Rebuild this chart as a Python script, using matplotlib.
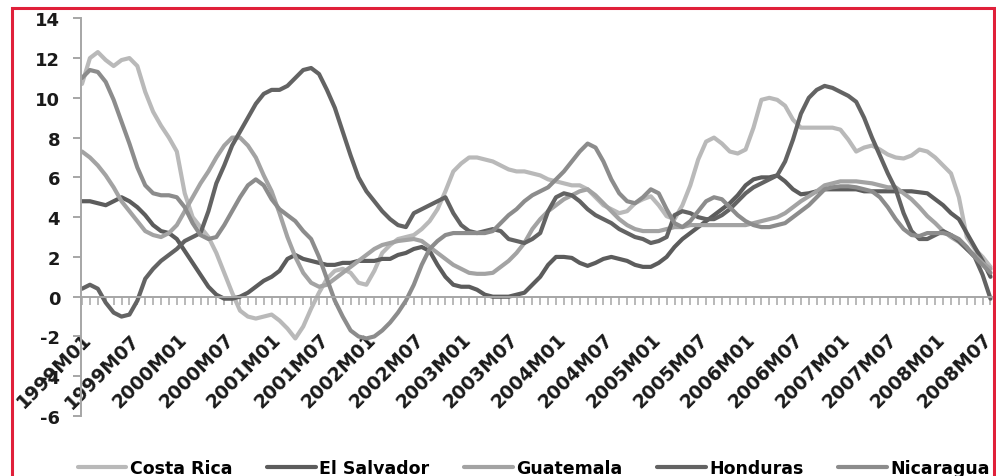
import matplotlib
matplotlib.use('Agg')
import matplotlib.pyplot as plt
from matplotlib.patches import Rectangle
from matplotlib.ticker import FixedLocator, MultipleLocator

plt.rcParams['font.family'] = ['DejaVu Sans']

# monthly categories 1999M01 .. 2008M08
months = [f'{1999 + i // 12}M{i % 12 + 1:02d}' for i in range(116)]

costa_rica = [
    10.7, 12.0, 12.3, 11.9, 11.6, 11.9, 12.0, 11.6, 10.3, 9.3,
    8.6, 8.0, 7.3, 5.2, 4.0, 3.5, 3.0, 2.2, 1.2, 0.2,
    -0.7, -1.0, -1.1, -1.0, -0.9, -1.2, -1.6, -2.1, -1.5, -0.6,
    0.2, 0.9, 1.3, 1.4, 1.2, 0.7, 0.6, 1.3, 2.2, 2.6,
    2.9, 3.0, 3.1, 3.4, 3.8, 4.4, 5.3, 6.3, 6.7, 7.0,
    7.0, 6.9, 6.8, 6.6, 6.4, 6.3, 6.3, 6.2, 6.1, 5.9,
    5.8, 5.7, 5.6, 5.6, 5.4, 5.0, 4.6, 4.4, 4.2, 4.3,
    4.7, 4.9, 5.05, 4.6, 4.05, 3.9, 4.6, 5.6, 6.9, 7.8,
    8.0, 7.7, 7.3, 7.2, 7.4, 8.5, 9.9, 10.0, 9.9, 9.6,
    8.9, 8.5, 8.5, 8.5, 8.5, 8.5, 8.4, 7.9, 7.3, 7.5,
    7.6, 7.4, 7.15, 7.0, 6.95, 7.1, 7.4, 7.3, 7.0, 6.6,
    6.2, 5.0, 3.0, 2.4, 2.0, 1.5,
]

el_salvador = [
    4.8, 4.8, 4.7, 4.6, 4.8, 5.0, 4.8, 4.5, 4.1, 3.6,
    3.3, 3.2, 2.9, 2.3, 1.7, 1.1, 0.5, 0.1, -0.1, -0.1,
    0.0, 0.2, 0.5, 0.8, 1.0, 1.3, 1.9, 2.1, 1.9, 1.8,
    1.7, 1.6, 1.6, 1.7, 1.7, 1.8, 1.8, 1.8, 1.9, 1.9,
    2.1, 2.2, 2.4, 2.5, 2.3, 1.6, 1.0, 0.6, 0.5, 0.5,
    0.35, 0.1, 0.0, 0.0, 0.0, 0.1, 0.2, 0.6, 1.0, 1.6,
    2.0, 2.0, 1.95, 1.7, 1.55, 1.7, 1.9, 2.0, 1.9, 1.8,
    1.6, 1.5, 1.5, 1.7, 2.0, 2.5, 2.9, 3.2, 3.5, 3.8,
    4.1, 4.4, 4.7, 5.1, 5.6, 5.9, 6.0, 6.0, 6.1, 5.8,
    5.4, 5.15, 5.2, 5.3, 5.4, 5.4, 5.4, 5.4, 5.4, 5.3,
    5.3, 5.3, 5.3, 5.3, 5.3, 5.3, 5.25, 5.2, 4.9, 4.6,
    4.2, 3.9, 3.2, 2.5, 1.8, 1.0,
]

guatemala = [
    7.3, 7.0, 6.6, 6.1, 5.5, 4.8, 4.3, 3.8, 3.3, 3.1,
    3.0, 3.2, 3.6, 4.3, 5.0, 5.7, 6.3, 7.0, 7.6, 8.0,
    8.0, 7.6, 7.0, 6.1, 5.3, 4.2, 3.0, 2.0, 1.2, 0.7,
    0.5, 0.6, 0.9, 1.2, 1.5, 1.8, 2.1, 2.4, 2.6, 2.7,
    2.8, 2.85, 2.9, 2.8, 2.5, 2.2, 1.9, 1.6, 1.4, 1.2,
    1.15, 1.15, 1.2, 1.5, 1.8, 2.2, 2.7, 3.4, 3.9, 4.3,
    4.6, 4.9, 5.1, 5.3, 5.4, 5.1, 4.7, 4.3, 3.9, 3.6,
    3.4, 3.3, 3.3, 3.3, 3.4, 3.5, 3.5, 3.6, 3.6, 3.6,
    3.6, 3.6, 3.6, 3.6, 3.6, 3.7, 3.8, 3.9, 4.0, 4.2,
    4.5, 4.8, 5.05, 5.3, 5.6, 5.7, 5.8, 5.8, 5.8, 5.75,
    5.7, 5.6, 5.5, 5.5, 5.2, 4.9, 4.5, 4.05, 3.7, 3.3,
    3.0, 2.75, 2.4, 2.1, 1.7, 1.4,
]

honduras = [
    0.4, 0.6, 0.4, -0.3, -0.8, -1.0, -0.9, -0.2, 0.9, 1.4,
    1.8, 2.1, 2.4, 2.8, 3.0, 3.2, 4.3, 5.7, 6.6, 7.6,
    8.3, 9.0, 9.7, 10.2, 10.4, 10.4, 10.6, 11.0, 11.4, 11.5,
    11.2, 10.4, 9.5, 8.3, 7.1, 6.0, 5.3, 4.8, 4.3, 3.9,
    3.6, 3.5, 4.2, 4.4, 4.6, 4.8, 5.0, 4.2, 3.6, 3.3,
    3.2, 3.3, 3.4, 3.3, 2.9, 2.8, 2.7, 2.9, 3.2, 4.3,
    5.0, 5.2, 5.1, 4.8, 4.4, 4.1, 3.9, 3.7, 3.4, 3.2,
    3.0, 2.9, 2.7, 2.8, 3.0, 4.1, 4.3, 4.2, 4.0, 3.9,
    3.9, 4.1, 4.4, 4.8, 5.2, 5.5, 5.7, 5.9, 6.1, 6.8,
    7.9, 9.2, 10.0, 10.4, 10.6, 10.5, 10.3, 10.1, 9.8, 9.0,
    8.0, 7.1, 6.2, 5.4, 4.2, 3.3, 2.9, 2.9, 3.1, 3.3,
    3.1, 2.8, 2.4, 2.0, 1.1, -0.1,
]

nicaragua = [
    11.0, 11.4, 11.3, 10.8, 9.9, 8.8, 7.7, 6.5, 5.6, 5.2,
    5.1, 5.1, 5.0, 4.5, 3.7, 3.1, 2.9, 3.0, 3.6, 4.3,
    5.0, 5.6, 5.9, 5.6, 4.9, 4.4, 4.1, 3.8, 3.3, 2.9,
    2.0, 0.9, -0.2, -1.0, -1.7, -2.0, -2.1, -2.0, -1.7, -1.3,
    -0.8, -0.2, 0.6, 1.6, 2.4, 2.8, 3.1, 3.2, 3.2, 3.2,
    3.2, 3.2, 3.3, 3.7, 4.1, 4.4, 4.8, 5.1, 5.3, 5.5,
    5.9, 6.3, 6.8, 7.3, 7.7, 7.5, 6.8, 5.9, 5.2, 4.8,
    4.7, 5.0, 5.4, 5.2, 4.4, 3.7, 3.5, 3.8, 4.3, 4.8,
    5.0, 4.9, 4.5, 4.1, 3.8, 3.6, 3.5, 3.5, 3.6, 3.7,
    4.0, 4.3, 4.6, 5.0, 5.4, 5.5, 5.55, 5.55, 5.5, 5.4,
    5.3, 5.0, 4.5, 3.9, 3.4, 3.1, 3.05, 3.2, 3.2, 3.2,
    3.1, 2.9, 2.5, 2.0, 1.6, 1.2,
]

series = [
    ('Costa Rica', costa_rica, '#b9b9b9'),
    ('El Salvador', el_salvador, '#5c5c5c'),
    ('Guatemala', guatemala, '#a3a3a3'),
    ('Honduras', honduras, '#636363'),
    ('Nicaragua', nicaragua, '#8c8c8c'),
]

fig = plt.figure(figsize=(9.96, 4.77), dpi=100)
ax = fig.add_axes([81 / 996, 1 - 417 / 477, 914 / 996, (417 - 19.3) / 477])

x = list(range(len(months)))
for name, vals, col in series:
    ax.plot(x, vals, color=col, lw=3.0, label=name, solid_capstyle='round')

ax.set_xlim(-0.13, 115.57)
ax.set_ylim(-6, 14)
ax.set_yticks(range(-6, 15, 2))
ax.set_yticklabels([str(v) for v in range(-6, 15, 2)])

axis_grey = '#a6a6a6'
for s in ['top', 'right']:
    ax.spines[s].set_visible(False)
ax.spines['left'].set_color(axis_grey)
ax.spines['left'].set_linewidth(1.4)
ax.spines['bottom'].set_position(('data', 0))
ax.spines['bottom'].set_color(axis_grey)
ax.spines['bottom'].set_linewidth(1.4)

ax.xaxis.set_major_locator(FixedLocator(x[::6]))
ax.xaxis.set_minor_locator(MultipleLocator(1))
ax.set_xticklabels(months[::6], rotation=45, ha='right', va='top',
                   rotation_mode='anchor', fontsize=13.5, fontweight='bold',
                   color='#1a1a1a')
ax.tick_params(axis='x', which='both', direction='out', length=5.5,
               width=1.1, color=axis_grey, pad=18)
ax.tick_params(axis='y', direction='out', length=6, width=1.4,
               color=axis_grey, pad=9, labelsize=13)
for lab in ax.get_yticklabels():
    lab.set_fontweight('bold')
    lab.set_color('#1a1a1a')

fig.legend(loc='center', ncol=5, bbox_to_anchor=(0.536, 1 - 469 / 477),
           frameon=False, prop={'weight': 'bold', 'size': 12.5},
           handlelength=2.8, handletextpad=0.2, columnspacing=2.0)

fig.patches.append(Rectangle((12 / 996, -0.05), 982 / 996, 1.05 - 9 / 477,
                             transform=fig.transFigure, fill=False,
                             edgecolor='#e0203a', lw=2.2, zorder=10))

fig.savefig('out.png', dpi=100)
